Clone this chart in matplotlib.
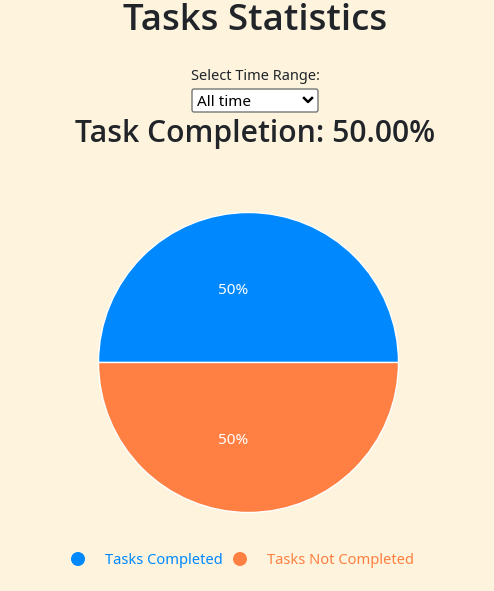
"""Tasks statistics pie, redrawn as a static matplotlib figure."""

import matplotlib

matplotlib.use("Agg")
import matplotlib.pyplot as plt
from matplotlib.lines import Line2D
from matplotlib.patches import Ellipse, FancyBboxPatch

labels = ["Tasks Completed", "Tasks Not Completed"]
values = [50, 50]
colors = ["#0088FE", "#FF8042"]
completion = 50.00
time_range = "All time"

W, H = 494, 591
BG = "#fef4de"
INK = "#212529"
FONT = "Noto Sans"
HEAD = "Open Sans"


def px(x, y):
    # pixel coords (top-left origin) -> figure fraction
    return x / W, 1 - y / H


fig = plt.figure(figsize=(W / 100, H / 100), dpi=100, facecolor=BG)

fig.text(*px(255.5, 21), "Tasks Statistics", ha="center", va="center",
         fontsize=26.4, fontweight="semibold", color=INK, family=HEAD)
fig.text(*px(255, 76), "Select Time Range:", ha="center", va="center",
         fontsize=10.5, color=INK, family=FONT)

# dropdown box
x0, y0 = px(192, 112)
x1, y1 = px(318, 89)
fig.patches.append(FancyBboxPatch((x0, y0), x1 - x0, y1 - y0,
                                  boxstyle="round,pad=0,rounding_size=0.004",
                                  transform=fig.transFigure, facecolor="white",
                                  edgecolor="#767676", linewidth=1))
fig.text(*px(197, 102), time_range, ha="left", va="center",
         fontsize=11, color="black", family=FONT)
cx, cy = 308, 100
chev = Line2D([px(cx - 4, 0)[0], px(cx, 0)[0], px(cx + 4, 0)[0]],
              [px(0, cy - 2)[1], px(0, cy + 2)[1], px(0, cy - 2)[1]],
              transform=fig.transFigure, color="black", linewidth=1.8)
fig.lines.append(chev)

fig.text(*px(255, 134), f"Task Completion: {completion:.2f}%", ha="center",
         va="center", fontsize=21.7, fontweight="semibold", color=INK, family=HEAD)

# pie
r = 150
pcx, pcy = 248.5, 362.5
ax = fig.add_axes([(pcx - r) / W, 1 - (pcy + r) / H, 2 * r / W, 2 * r / H])
wedges, _, autotexts = ax.pie(values, colors=colors, startangle=0,
                              counterclock=True, radius=1,
                              autopct=lambda p: f"{p:.0f}%", pctdistance=0.5,
                              wedgeprops={"edgecolor": "white", "linewidth": 1})
for t in autotexts:
    tx, ty = t.get_position()
    t.set_position((tx, ty - 0.02))
    t.set_ha("right")
    t.set_color("white")
    t.set_fontsize(11)
    t.set_family(FONT)
ax.set_xlim(-1, 1)
ax.set_ylim(-1, 1)
ax.set_aspect("equal")
ax.axis("off")

# legend
marker_x = [78, 240]
for label, color, mx in zip(labels, colors, marker_x):
    fig.patches.append(Ellipse(px(mx, 559), 14 / W, 14 / H,
                               transform=fig.transFigure,
                               facecolor=color, edgecolor="none"))
    fig.text(*px(mx + 27, 561), label, ha="left", va="center",
             fontsize=10.6, color=color, family=FONT)

fig.savefig("out.png", dpi=100, facecolor=BG)
